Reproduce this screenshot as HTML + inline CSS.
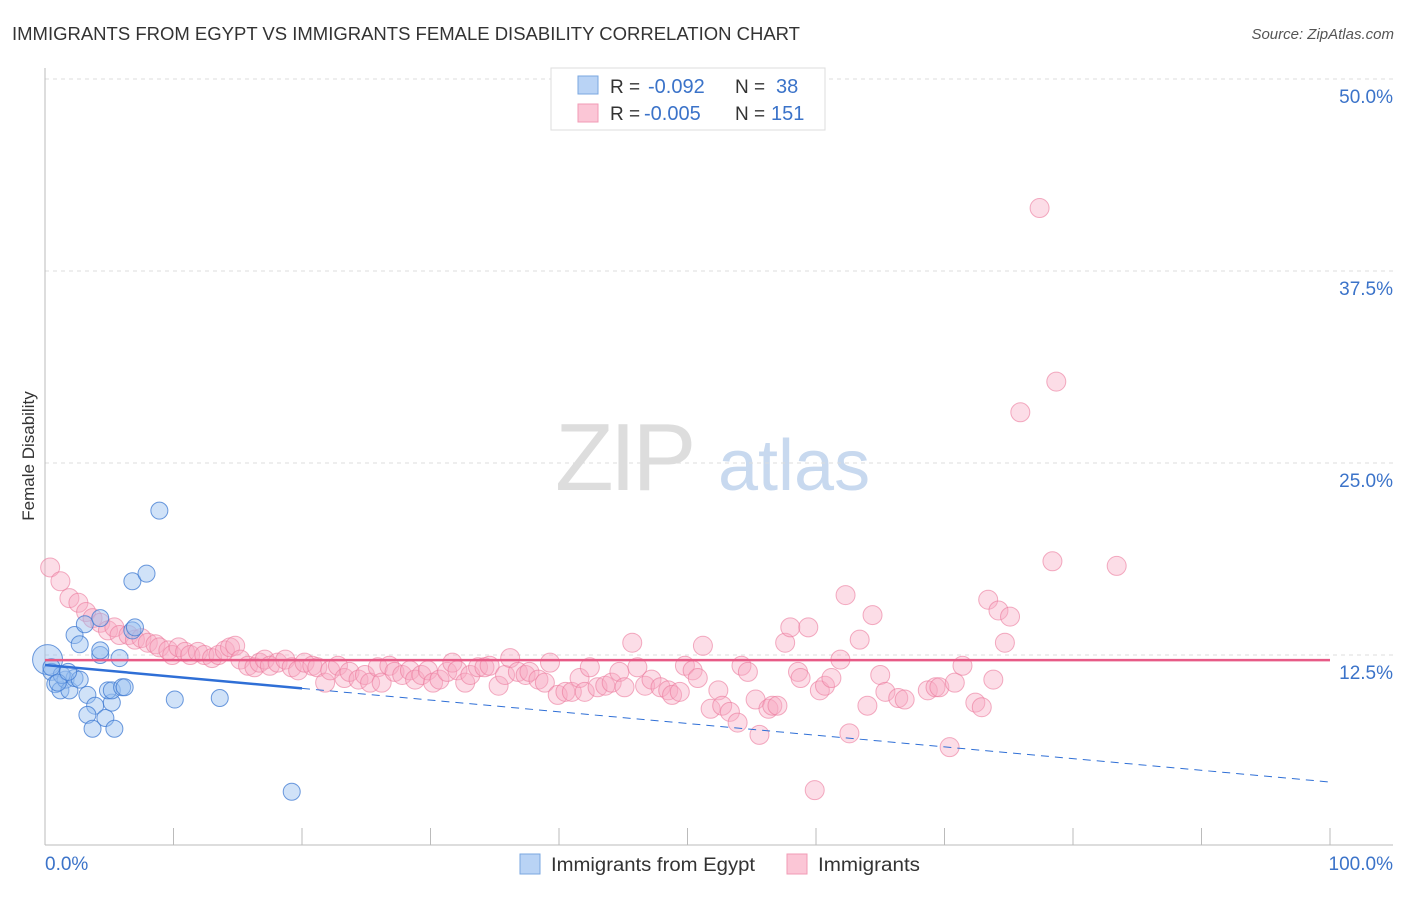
<!DOCTYPE html>
<html><head><meta charset="utf-8"><style>
body{margin:0;background:#fff;font-family:"Liberation Sans",sans-serif;}
svg text{font-family:"Liberation Sans",sans-serif;}
</style></head><body>
<svg id="chart" width="1406" height="892" viewBox="0 0 1406 892">
<text x="12" y="40" font-size="18" fill="#333" textLength="788" lengthAdjust="spacingAndGlyphs">IMMIGRANTS FROM EGYPT VS IMMIGRANTS FEMALE DISABILITY CORRELATION CHART</text>
<text x="1394" y="39" font-size="15" fill="#555" text-anchor="end" font-style="italic">Source: ZipAtlas.com</text>
<text transform="translate(34,456) rotate(-90)" font-size="17" fill="#333" text-anchor="middle">Female Disability</text>
<g><text x="555" y="490" font-size="96" fill="#ddd" font-family="Liberation Serif" letter-spacing="-4">ZIP</text><text x="718" y="490" font-size="72" fill="#c8d9ef">atlas</text></g>
<g id="grid"></g><g id="axes"></g><g id="pink"></g><g id="blue"></g><g id="lines"></g>
<g>
<rect x="551" y="68" width="274" height="62" fill="#fff" stroke="#ddd"/>
<rect x="578" y="76" width="20" height="18" fill="#b9d3f5" stroke="#7aa7e0"/>
<rect x="578" y="104" width="20" height="18" fill="#fbc6d6" stroke="#f29bb5"/>
<text x="610" y="93" font-size="19" fill="#333">R =</text>
<text x="648" y="93" font-size="20" fill="#3b73c9">-0.092</text>
<text x="735" y="93" font-size="19" fill="#333">N =</text>
<text x="776" y="93" font-size="20" fill="#3b73c9">38</text>
<text x="610" y="120" font-size="19" fill="#333">R =</text>
<text x="644" y="120" font-size="20" fill="#3b73c9">-0.005</text>
<text x="735" y="120" font-size="19" fill="#333">N =</text>
<text x="771" y="120" font-size="20" fill="#3b73c9">151</text>
</g>
<g>
<rect x="520" y="854" width="20" height="20" fill="#b9d3f5" stroke="#7aa7e0"/>
<text x="551" y="871" font-size="19" fill="#333" textLength="204" lengthAdjust="spacingAndGlyphs">Immigrants from Egypt</text>
<rect x="787" y="854" width="20" height="20" fill="#fbc6d6" stroke="#f29bb5"/>
<text x="818" y="871" font-size="19" fill="#333" textLength="102" lengthAdjust="spacingAndGlyphs">Immigrants</text>
</g>
</svg>
<script>
const yTicks=[12.5,25,37.5,50];
const yTickLabels=["12.5%","25.0%","37.5%","50.0%"];
const xTickLabels=["0.0%","100.0%"];
const blueX=[0.2,0.5,0.8,1.2,1.6,1.9,2.3,2.7,1.3,2.3,2.7,3.1,4.3,4.3,5.8,3.3,3.9,3.3,3.7,4.7,5.4,5.2,4.9,5.2,6.0,6.2,6.8,7.0,6.8,7.9,8.9,10.1,13.6,19.2,0.5,1.0,1.8,4.3];
const blueY=[12.2,11.4,10.6,10.2,10.9,10.2,11.0,10.9,11.2,13.8,13.2,14.5,14.9,12.5,12.3,9.9,9.2,8.6,7.7,8.4,7.7,9.4,10.2,10.2,10.4,10.4,14.1,14.3,17.3,17.8,21.9,9.6,9.7,3.6,11.7,10.7,11.4,12.8];
const pinkX=[0.4,1.2,1.9,2.6,3.2,3.7,4.3,4.9,5.4,5.8,6.5,7.0,7.5,8.0,8.6,8.9,9.6,9.9,10.4,10.9,11.3,11.9,12.4,13.0,13.5,14.0,14.4,14.8,15.2,15.8,16.3,16.7,17.1,17.5,18.1,18.7,19.2,19.7,20.2,20.8,21.2,21.8,22.2,22.8,23.3,23.7,24.4,24.9,25.3,25.9,26.2,26.8,27.2,27.8,28.4,28.8,29.3,29.8,30.2,30.7,31.3,31.7,32.1,32.7,33.1,33.7,34.2,34.6,35.3,35.8,36.2,36.8,37.4,37.7,38.4,38.9,39.3,39.9,40.5,41.0,41.6,42.0,42.4,43.0,43.6,44.1,44.7,45.1,45.7,46.1,46.7,47.2,47.9,48.5,48.8,49.4,49.8,50.4,50.8,51.2,51.8,52.4,52.7,53.3,53.9,54.2,54.7,55.3,55.6,56.3,56.6,57.0,57.6,58.0,58.6,58.8,59.4,59.9,60.3,60.7,61.2,61.9,62.3,62.6,63.4,64.0,64.4,65.0,65.4,66.4,66.9,68.7,69.3,69.6,70.4,70.8,71.4,72.4,72.9,73.4,73.8,74.2,74.7,75.1,75.9,77.4,78.4,78.7,83.4];
const pinkY=[18.2,17.3,16.2,15.9,15.3,14.9,14.6,14.1,14.3,13.8,13.8,13.5,13.6,13.3,13.2,13.0,12.8,12.5,13.0,12.7,12.5,12.7,12.5,12.3,12.5,12.8,13.0,13.1,12.2,11.8,11.7,12.0,12.2,11.8,12.0,12.2,11.7,11.5,12.0,11.8,11.7,10.7,11.5,11.8,11.0,11.4,10.9,11.2,10.7,11.7,10.7,11.8,11.4,11.2,11.5,10.9,11.2,11.5,10.7,10.9,11.4,12.0,11.5,10.7,11.2,11.7,11.7,11.8,10.5,11.2,12.3,11.4,11.2,11.4,10.9,10.7,12.0,9.9,10.1,10.1,11.0,10.1,11.7,10.4,10.5,10.7,11.4,10.4,13.3,11.7,10.5,10.9,10.4,10.2,9.9,10.1,11.8,11.5,11.0,13.1,9.0,10.2,9.2,8.8,8.1,11.8,11.4,9.6,7.3,9.0,9.2,9.2,13.3,14.3,11.4,11.0,14.3,3.7,10.2,10.5,11.0,12.2,16.4,7.4,13.5,9.2,15.1,11.2,10.1,9.7,9.6,10.2,10.4,10.4,6.5,10.7,11.8,9.4,9.1,16.1,10.9,15.4,13.3,15.0,28.3,41.6,18.6,30.3,18.3];
const blueTrend=[11.85,4.23];
const pinkTrend=[12.17,12.17];
const NS="http://www.w3.org/2000/svg";
const X0=45,X1=1330,Y0=847,PPY=192/12.5;
function xs(v){return X0+(X1-X0)*v/100;}
function ys(v){return Y0-v*PPY;}
function mk(tag,attrs,parent){const e=document.createElementNS(NS,tag);for(const k in attrs)e.setAttribute(k,attrs[k]);document.getElementById(parent).appendChild(e);return e;}
yTicks.forEach((t,i)=>{
 const g=mk('line',{x1:45,x2:1393,y1:ys(t),y2:ys(t),stroke:'#ddd','stroke-dasharray':'4,4'},'grid');
 
 
 const l=mk('text',{x:1393,y:ys(t)+24,'font-size':19,fill:'#3b73c9','text-anchor':'end'},'grid');
 l.textContent=yTickLabels[i];
 
 
});
const ax=mk('line',{x1:45,x2:45,y1:68,y2:845,stroke:'#bbb'},'axes');


const bx=mk('line',{x1:45,x2:1393,y1:845,y2:845,stroke:'#bbb'},'axes');


for(let k=0;k<=10;k++){
 const t=mk('line',{x1:xs(k*10),x2:xs(k*10),y1:828,y2:845,stroke:'#bbb'},'axes');
 
 
}
const xl0=mk('text',{x:45,y:870,'font-size':19,fill:'#3b73c9'},'axes');xl0.textContent=xTickLabels[0];


const xl1=mk('text',{x:1393,y:870,'font-size':19,fill:'#3b73c9','text-anchor':'end'},'axes');xl1.textContent=xTickLabels[1];


pinkX.forEach((v,i)=>{
 const c=mk('circle',{cx:xs(v),cy:ys(pinkY[i]),r:9.5,fill:'rgba(248,170,195,0.4)',stroke:'rgba(235,120,155,0.6)','stroke-width':1},'pink');
 
 
});
blueX.forEach((v,i)=>{
 const c=mk('circle',{cx:xs(v),cy:ys(blueY[i]),r:i===0?15:8.5,fill:'rgba(150,190,240,0.45)',stroke:'rgba(60,120,210,0.75)','stroke-width':1},'blue');
 
 
});
const bmid=blueTrend[0]+(blueTrend[1]-blueTrend[0])*0.2;
const bl=mk('line',{x1:xs(0),y1:ys(blueTrend[0]),x2:xs(20),y2:ys(bmid),stroke:'#2f6fd6','stroke-width':2.5},'lines');


const bd=mk('line',{x1:xs(20),y1:ys(bmid),x2:xs(100),y2:ys(blueTrend[1]),stroke:'#2f6fd6','stroke-width':1,'stroke-dasharray':'8,6'},'lines');


const pl=mk('line',{x1:xs(0),y1:ys(pinkTrend[0]),x2:xs(100),y2:ys(pinkTrend[1]),stroke:'#e75a86','stroke-width':2.5},'lines');


</script>
</body></html>
